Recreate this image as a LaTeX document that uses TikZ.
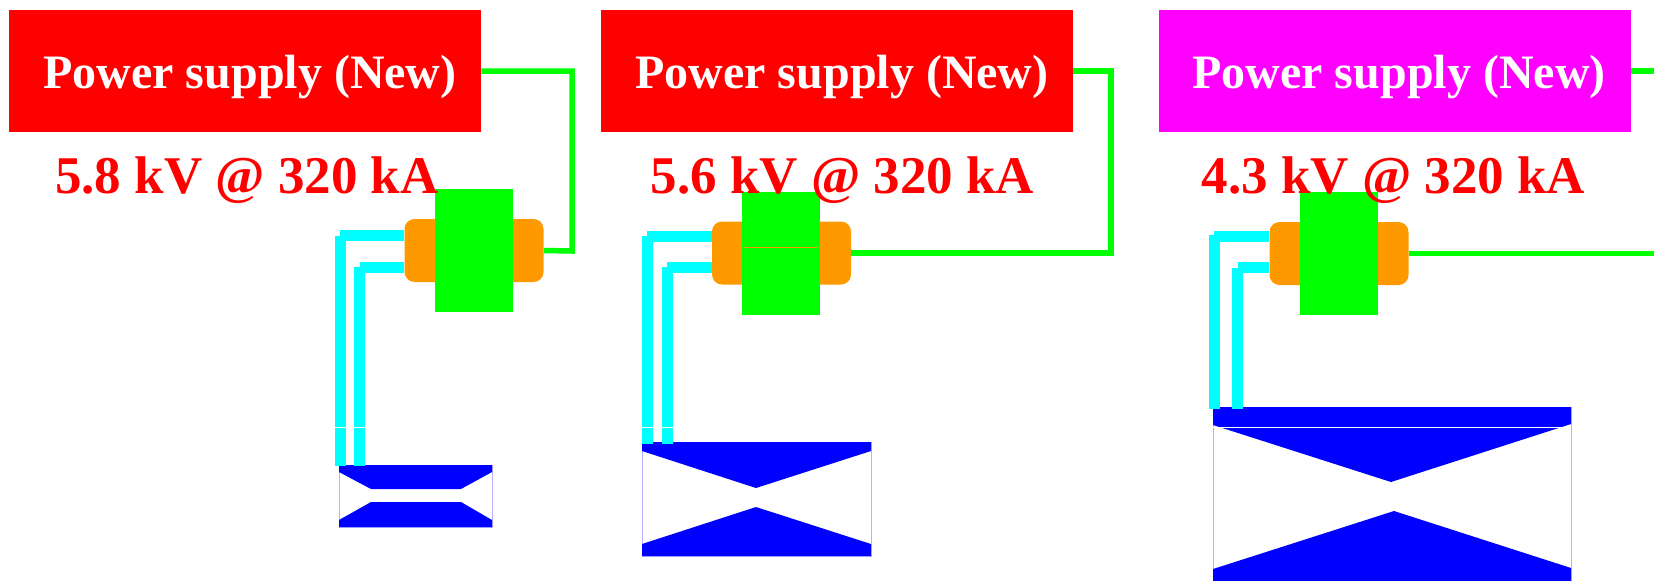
\documentclass[tikz,border=0pt]{standalone}
\usepackage{fontspec}
\setmainfont{Liberation Serif}
\usetikzlibrary{positioning,calc}
\definecolor{PsRed}{RGB}{255,0,0}
\definecolor{PsMagenta}{RGB}{255,0,255}
\definecolor{CoreGreen}{RGB}{0,255,0}
\definecolor{ClampOrange}{RGB}{255,153,0}
\definecolor{LeadCyan}{RGB}{0,255,255}
\definecolor{CoilBlue}{RGB}{0,0,255}
\tikzset{
  psbox/.style={draw=none,inner sep=0pt,minimum width=236pt,minimum height=61.25pt},
  pstext/.style={anchor=base,inner sep=0pt,text=white,font=\fontsize{24}{28}\selectfont\bfseries},
  volt/.style={anchor=base,inner sep=0pt,text=PsRed,font=\fontsize{26.5}{30}\selectfont\bfseries},
  core/.style={fill=CoreGreen,inner sep=0pt,minimum width=39pt,minimum height=61.5pt},
  clamp/.style={fill=ClampOrange,rounded corners=5pt,inner sep=0pt,minimum width=69.5pt,minimum height=31.5pt},
  coil/.style={draw=CoilBlue!30,line width=.3pt,inner sep=0pt},
  wire/.style={draw=CoreGreen,line width=2.75pt},
  lead/.style={draw=LeadCyan,line width=5.5pt},
}
\tikzset{winding/.style={fill=CoilBlue}, seam/.style={line width=.35pt}}
\begin{document}
\begin{tikzpicture}[x=.5pt,y=-.5pt]
\useasboundingbox (0,0) rectangle (1654,580);
% left supply
\node[psbox,fill=PsRed] (ps1) at (245,71) {};
\node[clamp] (clamp1) at (474,250.5) {};
\node[core] (core1) at (474,250.5) {};
\node[coil,minimum width=76.5pt,minimum height=31pt] (coil1) at (415.5,496) {};
\fill[winding] (339,465)--(492,465)--(492,472)--(461,489)--(371,489)--(339,472)--cycle;
\fill[winding] (339,527)--(492,527)--(492,520)--(461,502)--(371,502)--(339,520)--cycle;
\coordinate (lead1a) at (340,235.5);
\coordinate (lead1b) at (340.5,236);
\coordinate (lead1c) at (360,267.5);
\coordinate (lead1d) at (359.5,267);
\draw[lead] (lead1a) -- (lead1a -| clamp1.west);
\draw[lead] (lead1c) -- (lead1c -| clamp1.west);
\draw[lead] (lead1b) -- (340.5,426.5) (340.5,427.5) -- (340.5,466);
\draw[lead] (lead1d) -- (359.5,426.5) (359.5,427.5) -- (359.5,466);
\coordinate (bend1) at (572,251);
\draw[wire] (ps1.east) -| (bend1) -- (clamp1.east);
% middle supply
\node[psbox,fill=PsRed] (ps2) at (837,71) {};
\node[clamp] (clamp2) at (781.5,253) {};
\node[core] (core2) at (781,253) {};
\draw[ClampOrange,seam] (744,247.3) -- (818,247.3);
\node[coil,minimum width=114.5pt,minimum height=57pt] (coil2) at (756.5,499) {};
\fill[winding] (642,442)--(871,442)--(871,451)--(756,488)--(642,451)--cycle;
\fill[winding] (642,556)--(871,556)--(871,544)--(756,507)--(642,544)--cycle;
\coordinate (lead2a) at (647,236.5);
\coordinate (lead2b) at (647.5,236);
\coordinate (lead2c) at (667,267.5);
\coordinate (lead2d) at (667.5,267);
\draw[lead] (lead2a) -- (lead2a -| clamp2.west);
\draw[lead] (lead2c) -- (lead2c -| clamp2.west);
\draw[lead] (lead2b) -- (647.5,426.5) (647.5,427.5) -- (647.5,444);
\draw[lead] (lead2d) -- (667.5,426.5) (667.5,427.5) -- (667.5,444);
\coordinate (bend2) at (1111,253);
\draw[wire] (ps2.east) -| (bend2) -- (clamp2.east);
% right supply
\node[psbox,fill=PsMagenta] (ps3) at (1395,71) {};
\node[clamp] (clamp3) at (1339,253.5) {};
\node[core] (core3) at (1339,253.5) {};
\node[coil,minimum width=179pt,minimum height=100pt] (coil3) at (1392,507) {};
\fill[winding] (1213,407)--(1571,407)--(1571,424)--(1391,482)--(1213,425)--cycle;
\fill[winding] (1213,607)--(1571,607)--(1571,568)--(1394,511)--(1213,569)--cycle;
\draw[white,seam] (1213,427.3) -- (1571,427.3);
\coordinate (lead3a) at (1214,236);
\coordinate (lead3b) at (1214.5,235);
\coordinate (lead3c) at (1238,267.5);
\coordinate (lead3d) at (1237.5,268);
\draw[lead] (lead3a) -- (lead3a -| clamp3.west);
\draw[lead] (lead3c) -- (lead3c -| clamp3.west);
\draw[lead] (lead3b) -- (1214.5,409);
\draw[lead] (lead3d) -- (1237.5,409);
\coordinate (bend3) at (1654,71);
\coordinate (exit3) at (1654,253.5);
\draw[wire] (ps3.east) -- (bend3);
\draw[wire] (clamp3.east) -- (exit3);
% labels
\node[pstext] (label1) at (250,88) {Power supply (New)};
\node[pstext] (label2) at (842,88) {Power supply (New)};
\node[pstext] (label3) at (1399,88) {Power supply (New)};
\node[volt] (volt1) at (247,193) {5.8 kV @ 320 kA};
\node[volt] (volt2) at (842.5,193) {5.6 kV @ 320 kA};
\node[volt] (volt3) at (1393.5,193) {4.3 kV @ 320 kA};
\end{tikzpicture}
\end{document}
